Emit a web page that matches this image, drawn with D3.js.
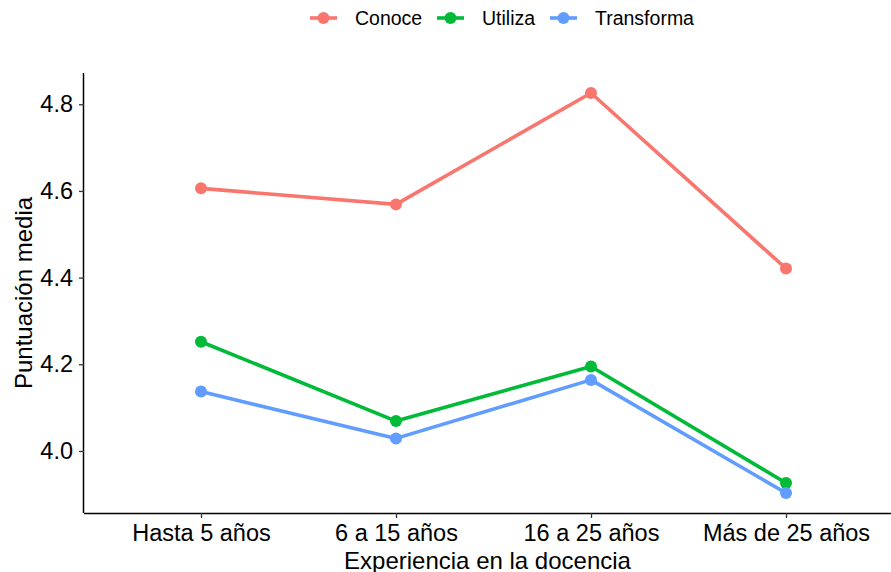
<!DOCTYPE html>
<html>
<head>
<meta charset="utf-8">
<script src="https://cdn.jsdelivr.net/npm/d3@7"></script>
<style>
  html, body { margin: 0; padding: 0; background: #fff; }
  svg { display: block; font-family: "Liberation Sans", Arial, sans-serif; }
</style>
</head>
<body>
<svg id="chart" width="891" height="572"></svg>
<script>
const categories = ["Hasta 5 años", "6 a 15 años", "16 a 25 años", "Más de 25 años"];
const seriesNames = ["Conoce", "Utiliza", "Transforma"];
const conoce = [4.606, 4.569, 4.826, 4.421];
const utiliza = [4.252, 4.069, 4.195, 3.926];
const transforma = [4.137, 4.029, 4.164, 3.903];
const yTicks = [4.0, 4.2, 4.4, 4.6, 4.8];
const colors = ["#F8766D", "#00BA38", "#619CFF"];
const xTitle = "Experiencia en la docencia";
const yTitle = "Puntuación media";

const seriesValues = [conoce, utiliza, transforma];
const series = seriesNames.map((name, i) => ({
  name, color: colors[i],
  values: categories.map((c, j) => ({ cat: c, v: seriesValues[i][j] }))
}));

const svg = d3.select("#chart");
const mLeft = 84, mRight = 891, mTop = 73, mBottom = 513;

const allVals = seriesValues.flat();
const ext = d3.extent(allVals);
const pad = (ext[1] - ext[0]) * 0.05;
const y = d3.scaleLinear().domain([ext[0] - pad, ext[1] + pad]).range([mBottom, mTop]);
const x = d3.scalePoint().domain(categories).range([mLeft, 903]).padding(0.6);

// X axis
const xAxis = svg.append("g").attr("transform", `translate(0,${mBottom})`)
  .call(d3.axisBottom(x).tickSize(5).tickSizeOuter(0).tickPadding(6));
xAxis.select(".domain").attr("d", `M${mLeft},0.5H${mRight}`).attr("stroke", "#000").attr("stroke-width", 1.5);
xAxis.selectAll(".tick line").attr("stroke", "#333").attr("stroke-width", 1.3);
xAxis.selectAll(".tick text").attr("font-size", 23.5).attr("fill", "#000")
  .attr("font-family", "Liberation Sans, Arial, sans-serif");

// Y axis
const yAxis = svg.append("g").attr("transform", `translate(${mLeft},0)`)
  .call(d3.axisLeft(y).tickValues(yTicks).tickFormat(d3.format(".1f")).tickSize(5).tickSizeOuter(0).tickPadding(6));
yAxis.select(".domain").attr("d", `M-0.5,${mTop}V${mBottom}`).attr("stroke", "#000").attr("stroke-width", 1.5);
yAxis.selectAll(".tick line").attr("stroke", "#333").attr("stroke-width", 1.3);
yAxis.selectAll(".tick text").attr("font-size", 23.5).attr("fill", "#000")
  .attr("font-family", "Liberation Sans, Arial, sans-serif");

// Lines and points
const line = d3.line().x(d => x(d.cat)).y(d => y(d.v));
const g = svg.append("g");
series.forEach(s => {
  g.append("path").datum(s.values).attr("d", line)
    .attr("fill", "none").attr("stroke", s.color).attr("stroke-width", 3.6)
    .attr("stroke-linejoin", "round");
  g.selectAll(null).data(s.values).enter().append("circle")
    .attr("cx", d => x(d.cat)).attr("cy", d => y(d.v)).attr("r", 6).attr("fill", s.color);
});

// Axis titles
svg.append("text").attr("x", (mLeft + mRight) / 2).attr("y", 569)
  .attr("text-anchor", "middle").attr("font-size", 24).attr("fill", "#000").text(xTitle);
svg.append("text").attr("transform", `translate(32,${(mTop + mBottom) / 2}) rotate(-90)`)
  .attr("text-anchor", "middle").attr("font-size", 24).attr("fill", "#000").text(yTitle);

// Legend
const legendX = [310, 437, 550];
const legend = svg.append("g");
series.forEach((s, i) => {
  const lg = legend.append("g").attr("transform", `translate(${legendX[i]},18)`);
  lg.append("line").attr("x1", 0).attr("x2", 27).attr("y1", 0).attr("y2", 0)
    .attr("stroke", s.color).attr("stroke-width", 3.6);
  lg.append("circle").attr("cx", 13.5).attr("cy", 0).attr("r", 6).attr("fill", s.color);
  lg.append("text").attr("x", 45).attr("y", 7).attr("font-size", 19.5).attr("fill", "#000").text(s.name);
});
</script>
</body>
</html>
